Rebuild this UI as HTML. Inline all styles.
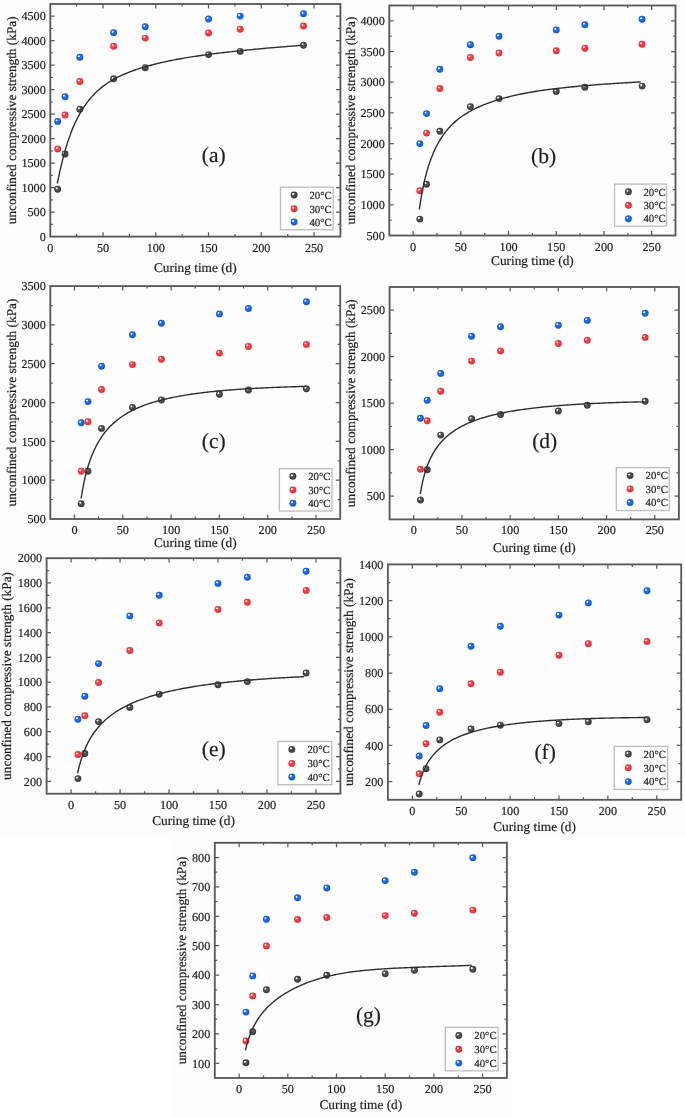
<!DOCTYPE html>
<html><head><meta charset="utf-8"><style>
html,body{margin:0;padding:0;background:#fff;}
svg{display:block;will-change:transform;filter:blur(0.35px);}
text{font-family:"Liberation Serif", serif;fill:#1e1e1e;text-rendering:geometricPrecision;stroke:#1e1e1e;stroke-width:0.2px;}
.tl{font-size:12.2px;}
.at{font-size:13.3px;}
.lg{font-size:10.8px;}
.pl{font-size:21.5px;}
</style></head><body>
<svg width="685" height="1117" viewBox="0 0 685 1117">
<defs><radialGradient id="gk" cx="0.5" cy="0.5" r="0.5" fx="0.33" fy="0.30">
 <stop offset="0" stop-color="#b0b0b0"/><stop offset="0.35" stop-color="#5c5c5c"/><stop offset="0.75" stop-color="#434343"/><stop offset="1" stop-color="#383838"/>
</radialGradient><radialGradient id="gr" cx="0.5" cy="0.5" r="0.5" fx="0.33" fy="0.30">
 <stop offset="0" stop-color="#ffb4b8"/><stop offset="0.35" stop-color="#f44a50"/><stop offset="0.75" stop-color="#ef343b"/><stop offset="1" stop-color="#e02a31"/>
</radialGradient><radialGradient id="gb" cx="0.5" cy="0.5" r="0.5" fx="0.33" fy="0.30">
 <stop offset="0" stop-color="#a0c4ff"/><stop offset="0.35" stop-color="#2c74ee"/><stop offset="0.75" stop-color="#1462e0"/><stop offset="1" stop-color="#0f54cc"/>
</radialGradient><radialGradient id="hl" cx="0.5" cy="0.5" r="0.5"><stop offset="0" stop-color="#fff" stop-opacity="1"/><stop offset="0.5" stop-color="#fff" stop-opacity="0.85"/><stop offset="1" stop-color="#fff" stop-opacity="0"/></radialGradient></defs>
<rect width="685" height="1117" fill="#fdfdfd"/>
<rect x="0" y="838" width="173" height="279" fill="#fff"/><rect x="511" y="838" width="174" height="279" fill="#fff"/>
<path d="M76.67,236.6v-2.5M76.67,4.0v2.5M103.05,236.6v-4.4M103.05,4.0v4.4M129.42,236.6v-2.5M129.42,4.0v2.5M155.79,236.6v-4.4M155.79,4.0v4.4M182.16,236.6v-2.5M182.16,4.0v2.5M208.54,236.6v-4.4M208.54,4.0v4.4M234.91,236.6v-2.5M234.91,4.0v2.5M261.28,236.6v-4.4M261.28,4.0v4.4M287.65,236.6v-2.5M287.65,4.0v2.5M314.03,236.6v-4.4M314.03,4.0v4.4M50.3,224.36h2.5M340.4,224.36h-2.5M50.3,212.12h4.4M340.4,212.12h-4.4M50.3,199.87h2.5M340.4,199.87h-2.5M50.3,187.63h4.4M340.4,187.63h-4.4M50.3,175.39h2.5M340.4,175.39h-2.5M50.3,163.15h4.4M340.4,163.15h-4.4M50.3,150.91h2.5M340.4,150.91h-2.5M50.3,138.66h4.4M340.4,138.66h-4.4M50.3,126.42h2.5M340.4,126.42h-2.5M50.3,114.18h4.4M340.4,114.18h-4.4M50.3,101.94h2.5M340.4,101.94h-2.5M50.3,89.69h4.4M340.4,89.69h-4.4M50.3,77.45h2.5M340.4,77.45h-2.5M50.3,65.21h4.4M340.4,65.21h-4.4M50.3,52.97h2.5M340.4,52.97h-2.5M50.3,40.73h4.4M340.4,40.73h-4.4M50.3,28.48h2.5M340.4,28.48h-2.5M50.3,16.24h4.4M340.4,16.24h-4.4" stroke="#5a5a5a" stroke-width="1.25" fill="none"/>
<rect x="50.3" y="4.0" width="290.10" height="232.60" fill="none" stroke="#5a5a5a" stroke-width="1.85"/>
<text x="50.30" y="251.60" text-anchor="middle" class="tl">0</text>
<text x="103.05" y="251.60" text-anchor="middle" class="tl">50</text>
<text x="155.79" y="251.60" text-anchor="middle" class="tl">100</text>
<text x="208.54" y="251.60" text-anchor="middle" class="tl">150</text>
<text x="261.28" y="251.60" text-anchor="middle" class="tl">200</text>
<text x="314.03" y="251.60" text-anchor="middle" class="tl">250</text>
<text x="45.80" y="240.80" text-anchor="end" class="tl">0</text>
<text x="45.80" y="216.32" text-anchor="end" class="tl">500</text>
<text x="45.80" y="191.83" text-anchor="end" class="tl">1000</text>
<text x="45.80" y="167.35" text-anchor="end" class="tl">1500</text>
<text x="45.80" y="142.86" text-anchor="end" class="tl">2000</text>
<text x="45.80" y="118.38" text-anchor="end" class="tl">2500</text>
<text x="45.80" y="93.89" text-anchor="end" class="tl">3000</text>
<text x="45.80" y="69.41" text-anchor="end" class="tl">3500</text>
<text x="45.80" y="44.93" text-anchor="end" class="tl">4000</text>
<text x="45.80" y="20.44" text-anchor="end" class="tl">4500</text>
<text x="195.35" y="272.40" text-anchor="middle" class="at">Curing time (d)</text>
<text transform="translate(15.80,120.30) rotate(-90)" text-anchor="middle" class="at">unconfined compressive strength (kPa)</text>
<circle cx="57.68" cy="189.30" r="3.45" fill="url(#gk)"/><circle cx="56.68" cy="188.30" r="1.25" fill="url(#hl)"/>
<circle cx="65.07" cy="154.00" r="3.45" fill="url(#gk)"/><circle cx="64.07" cy="153.00" r="1.25" fill="url(#hl)"/>
<circle cx="79.84" cy="109.20" r="3.45" fill="url(#gk)"/><circle cx="78.84" cy="108.20" r="1.25" fill="url(#hl)"/>
<circle cx="113.59" cy="78.80" r="3.45" fill="url(#gk)"/><circle cx="112.59" cy="77.80" r="1.25" fill="url(#hl)"/>
<circle cx="145.24" cy="67.70" r="3.45" fill="url(#gk)"/><circle cx="144.24" cy="66.70" r="1.25" fill="url(#hl)"/>
<circle cx="208.54" cy="54.60" r="3.45" fill="url(#gk)"/><circle cx="207.54" cy="53.60" r="1.25" fill="url(#hl)"/>
<circle cx="240.18" cy="51.40" r="3.45" fill="url(#gk)"/><circle cx="239.18" cy="50.40" r="1.25" fill="url(#hl)"/>
<circle cx="303.48" cy="45.30" r="3.45" fill="url(#gk)"/><circle cx="302.48" cy="44.30" r="1.25" fill="url(#hl)"/>
<circle cx="57.68" cy="149.00" r="3.45" fill="url(#gr)"/><circle cx="56.68" cy="148.00" r="1.25" fill="url(#hl)"/>
<circle cx="65.07" cy="115.00" r="3.45" fill="url(#gr)"/><circle cx="64.07" cy="114.00" r="1.25" fill="url(#hl)"/>
<circle cx="79.84" cy="81.50" r="3.45" fill="url(#gr)"/><circle cx="78.84" cy="80.50" r="1.25" fill="url(#hl)"/>
<circle cx="113.59" cy="46.20" r="3.45" fill="url(#gr)"/><circle cx="112.59" cy="45.20" r="1.25" fill="url(#hl)"/>
<circle cx="145.24" cy="38.10" r="3.45" fill="url(#gr)"/><circle cx="144.24" cy="37.10" r="1.25" fill="url(#hl)"/>
<circle cx="208.54" cy="33.00" r="3.45" fill="url(#gr)"/><circle cx="207.54" cy="32.00" r="1.25" fill="url(#hl)"/>
<circle cx="240.18" cy="29.20" r="3.45" fill="url(#gr)"/><circle cx="239.18" cy="28.20" r="1.25" fill="url(#hl)"/>
<circle cx="303.48" cy="26.00" r="3.45" fill="url(#gr)"/><circle cx="302.48" cy="25.00" r="1.25" fill="url(#hl)"/>
<circle cx="57.68" cy="121.40" r="3.45" fill="url(#gb)"/><circle cx="56.68" cy="120.40" r="1.25" fill="url(#hl)"/>
<circle cx="65.07" cy="96.70" r="3.45" fill="url(#gb)"/><circle cx="64.07" cy="95.70" r="1.25" fill="url(#hl)"/>
<circle cx="79.84" cy="57.30" r="3.45" fill="url(#gb)"/><circle cx="78.84" cy="56.30" r="1.25" fill="url(#hl)"/>
<circle cx="113.59" cy="32.80" r="3.45" fill="url(#gb)"/><circle cx="112.59" cy="31.80" r="1.25" fill="url(#hl)"/>
<circle cx="145.24" cy="26.80" r="3.45" fill="url(#gb)"/><circle cx="144.24" cy="25.80" r="1.25" fill="url(#hl)"/>
<circle cx="208.54" cy="19.00" r="3.45" fill="url(#gb)"/><circle cx="207.54" cy="18.00" r="1.25" fill="url(#hl)"/>
<circle cx="240.18" cy="16.10" r="3.45" fill="url(#gb)"/><circle cx="239.18" cy="15.10" r="1.25" fill="url(#hl)"/>
<circle cx="303.48" cy="13.70" r="3.45" fill="url(#gb)"/><circle cx="302.48" cy="12.70" r="1.25" fill="url(#hl)"/>
<polyline points="57.30,183.30 58.84,176.16 60.38,169.21 61.93,162.65 63.47,156.56 65.01,150.91 66.55,145.69 68.09,140.86 69.64,136.39 71.18,132.24 72.72,128.38 74.26,124.78 75.81,121.43 77.35,118.30 78.89,115.36 80.43,112.61 81.97,110.03 83.52,107.60 85.06,105.32 86.60,103.16 88.14,101.13 89.68,99.21 91.23,97.40 92.77,95.68 94.31,94.06 95.85,92.52 97.40,91.06 98.94,89.68 100.48,88.37 102.02,87.12 103.56,85.94 105.11,84.81 106.65,83.74 108.19,82.71 109.73,81.73 111.27,80.79 112.82,79.89 114.36,79.03 115.90,78.20 117.44,77.40 118.99,76.63 120.53,75.89 122.07,75.17 123.61,74.48 125.15,73.81 126.70,73.17 128.24,72.54 129.78,71.93 131.32,71.35 132.86,70.78 134.41,70.22 135.95,69.68 137.49,69.16 139.03,68.65 140.58,68.16 142.12,67.68 143.66,67.21 145.20,66.75 146.74,66.31 148.29,65.87 149.83,65.45 151.37,65.04 152.91,64.63 154.45,64.24 156.00,63.86 157.54,63.48 159.08,63.11 160.62,62.75 162.17,62.40 163.71,62.06 165.25,61.72 166.79,61.39 168.33,61.07 169.88,60.75 171.42,60.44 172.96,60.14 174.50,59.84 176.04,59.55 177.59,59.26 179.13,58.98 180.67,58.71 182.21,58.44 183.76,58.17 185.30,57.91 186.84,57.65 188.38,57.40 189.92,57.15 191.47,56.91 193.01,56.67 194.55,56.43 196.09,56.20 197.63,55.97 199.18,55.74 200.72,55.52 202.26,55.30 203.80,55.09 205.35,54.87 206.89,54.66 208.43,54.46 209.97,54.25 211.51,54.05 213.06,53.86 214.60,53.66 216.14,53.47 217.68,53.28 219.22,53.09 220.77,52.90 222.31,52.72 223.85,52.54 225.39,52.36 226.94,52.18 228.48,52.01 230.02,51.83 231.56,51.66 233.10,51.49 234.65,51.33 236.19,51.16 237.73,51.00 239.27,50.83 240.81,50.67 242.36,50.51 243.90,50.36 245.44,50.20 246.98,50.05 248.53,49.90 250.07,49.74 251.61,49.60 253.15,49.45 254.69,49.30 256.24,49.15 257.78,49.01 259.32,48.87 260.86,48.73 262.40,48.59 263.95,48.45 265.49,48.31 267.03,48.17 268.57,48.03 270.12,47.90 271.66,47.77 273.20,47.63 274.74,47.50 276.28,47.37 277.83,47.24 279.37,47.11 280.91,46.99 282.45,46.86 283.99,46.73 285.54,46.61 287.08,46.48 288.62,46.36 290.16,46.24 291.71,46.12 293.25,46.00 294.79,45.88 296.33,45.76 297.87,45.64 299.42,45.52 300.96,45.40 302.50,45.29" fill="none" stroke="#2e2e2e" stroke-width="1.4" stroke-linejoin="round"/>
<rect x="280.5" y="187.2" width="52.70" height="42.50" fill="#fff" stroke="#bcbcbc" stroke-width="1.3"/>
<circle cx="294.10" cy="195.00" r="3.45" fill="url(#gk)"/><circle cx="293.10" cy="194.00" r="1.25" fill="url(#hl)"/>
<text x="309.40" y="198.70" class="lg">20°C</text>
<circle cx="294.10" cy="208.80" r="3.45" fill="url(#gr)"/><circle cx="293.10" cy="207.80" r="1.25" fill="url(#hl)"/>
<text x="309.40" y="212.50" class="lg">30°C</text>
<circle cx="294.10" cy="222.00" r="3.45" fill="url(#gb)"/><circle cx="293.10" cy="221.00" r="1.25" fill="url(#hl)"/>
<text x="309.40" y="225.70" class="lg">40°C</text>
<text x="201.80" y="162.30" class="pl">(a)</text>
<path d="M413.15,235.5v-4.4M413.15,5.5v4.4M437.00,235.5v-2.5M437.00,5.5v2.5M460.85,235.5v-4.4M460.85,5.5v4.4M484.70,235.5v-2.5M484.70,5.5v2.5M508.55,235.5v-4.4M508.55,5.5v4.4M532.40,235.5v-2.5M532.40,5.5v2.5M556.25,235.5v-4.4M556.25,5.5v4.4M580.10,235.5v-2.5M580.10,5.5v2.5M603.95,235.5v-4.4M603.95,5.5v4.4M627.80,235.5v-2.5M627.80,5.5v2.5M651.65,235.5v-4.4M651.65,5.5v4.4M389.3,220.17h2.5M675.5,220.17h-2.5M389.3,204.83h4.4M675.5,204.83h-4.4M389.3,189.50h2.5M675.5,189.50h-2.5M389.3,174.17h4.4M675.5,174.17h-4.4M389.3,158.83h2.5M675.5,158.83h-2.5M389.3,143.50h4.4M675.5,143.50h-4.4M389.3,128.17h2.5M675.5,128.17h-2.5M389.3,112.83h4.4M675.5,112.83h-4.4M389.3,97.50h2.5M675.5,97.50h-2.5M389.3,82.17h4.4M675.5,82.17h-4.4M389.3,66.83h2.5M675.5,66.83h-2.5M389.3,51.50h4.4M675.5,51.50h-4.4M389.3,36.17h2.5M675.5,36.17h-2.5M389.3,20.83h4.4M675.5,20.83h-4.4" stroke="#5a5a5a" stroke-width="1.25" fill="none"/>
<rect x="389.3" y="5.5" width="286.20" height="230.00" fill="none" stroke="#5a5a5a" stroke-width="1.85"/>
<text x="413.15" y="250.50" text-anchor="middle" class="tl">0</text>
<text x="460.85" y="250.50" text-anchor="middle" class="tl">50</text>
<text x="508.55" y="250.50" text-anchor="middle" class="tl">100</text>
<text x="556.25" y="250.50" text-anchor="middle" class="tl">150</text>
<text x="603.95" y="250.50" text-anchor="middle" class="tl">200</text>
<text x="651.65" y="250.50" text-anchor="middle" class="tl">250</text>
<text x="384.80" y="239.70" text-anchor="end" class="tl">500</text>
<text x="384.80" y="209.03" text-anchor="end" class="tl">1000</text>
<text x="384.80" y="178.37" text-anchor="end" class="tl">1500</text>
<text x="384.80" y="147.70" text-anchor="end" class="tl">2000</text>
<text x="384.80" y="117.03" text-anchor="end" class="tl">2500</text>
<text x="384.80" y="86.37" text-anchor="end" class="tl">3000</text>
<text x="384.80" y="55.70" text-anchor="end" class="tl">3500</text>
<text x="384.80" y="25.03" text-anchor="end" class="tl">4000</text>
<text x="532.40" y="265.10" text-anchor="middle" class="at">Curing time (d)</text>
<text transform="translate(354.80,120.50) rotate(-90)" text-anchor="middle" class="at">unconfined compressive strength (kPa)</text>
<circle cx="419.83" cy="219.10" r="3.45" fill="url(#gk)"/><circle cx="418.83" cy="218.10" r="1.25" fill="url(#hl)"/>
<circle cx="426.51" cy="184.20" r="3.45" fill="url(#gk)"/><circle cx="425.51" cy="183.20" r="1.25" fill="url(#hl)"/>
<circle cx="439.86" cy="131.30" r="3.45" fill="url(#gk)"/><circle cx="438.86" cy="130.30" r="1.25" fill="url(#hl)"/>
<circle cx="470.39" cy="106.60" r="3.45" fill="url(#gk)"/><circle cx="469.39" cy="105.60" r="1.25" fill="url(#hl)"/>
<circle cx="499.01" cy="98.60" r="3.45" fill="url(#gk)"/><circle cx="498.01" cy="97.60" r="1.25" fill="url(#hl)"/>
<circle cx="556.25" cy="91.50" r="3.45" fill="url(#gk)"/><circle cx="555.25" cy="90.50" r="1.25" fill="url(#hl)"/>
<circle cx="584.87" cy="87.30" r="3.45" fill="url(#gk)"/><circle cx="583.87" cy="86.30" r="1.25" fill="url(#hl)"/>
<circle cx="642.11" cy="86.10" r="3.45" fill="url(#gk)"/><circle cx="641.11" cy="85.10" r="1.25" fill="url(#hl)"/>
<circle cx="419.83" cy="190.70" r="3.45" fill="url(#gr)"/><circle cx="418.83" cy="189.70" r="1.25" fill="url(#hl)"/>
<circle cx="426.51" cy="133.10" r="3.45" fill="url(#gr)"/><circle cx="425.51" cy="132.10" r="1.25" fill="url(#hl)"/>
<circle cx="439.86" cy="88.50" r="3.45" fill="url(#gr)"/><circle cx="438.86" cy="87.50" r="1.25" fill="url(#hl)"/>
<circle cx="470.39" cy="57.50" r="3.45" fill="url(#gr)"/><circle cx="469.39" cy="56.50" r="1.25" fill="url(#hl)"/>
<circle cx="499.01" cy="53.00" r="3.45" fill="url(#gr)"/><circle cx="498.01" cy="52.00" r="1.25" fill="url(#hl)"/>
<circle cx="556.25" cy="50.70" r="3.45" fill="url(#gr)"/><circle cx="555.25" cy="49.70" r="1.25" fill="url(#hl)"/>
<circle cx="584.87" cy="48.20" r="3.45" fill="url(#gr)"/><circle cx="583.87" cy="47.20" r="1.25" fill="url(#hl)"/>
<circle cx="642.11" cy="44.30" r="3.45" fill="url(#gr)"/><circle cx="641.11" cy="43.30" r="1.25" fill="url(#hl)"/>
<circle cx="419.83" cy="143.60" r="3.45" fill="url(#gb)"/><circle cx="418.83" cy="142.60" r="1.25" fill="url(#hl)"/>
<circle cx="426.51" cy="113.60" r="3.45" fill="url(#gb)"/><circle cx="425.51" cy="112.60" r="1.25" fill="url(#hl)"/>
<circle cx="439.86" cy="69.30" r="3.45" fill="url(#gb)"/><circle cx="438.86" cy="68.30" r="1.25" fill="url(#hl)"/>
<circle cx="470.39" cy="44.70" r="3.45" fill="url(#gb)"/><circle cx="469.39" cy="43.70" r="1.25" fill="url(#hl)"/>
<circle cx="499.01" cy="36.30" r="3.45" fill="url(#gb)"/><circle cx="498.01" cy="35.30" r="1.25" fill="url(#hl)"/>
<circle cx="556.25" cy="29.90" r="3.45" fill="url(#gb)"/><circle cx="555.25" cy="28.90" r="1.25" fill="url(#hl)"/>
<circle cx="584.87" cy="24.70" r="3.45" fill="url(#gb)"/><circle cx="583.87" cy="23.70" r="1.25" fill="url(#hl)"/>
<circle cx="642.11" cy="19.30" r="3.45" fill="url(#gb)"/><circle cx="641.11" cy="18.30" r="1.25" fill="url(#hl)"/>
<polyline points="419.30,209.45 420.69,200.21 422.09,192.25 423.48,185.31 424.87,179.19 426.27,173.73 427.66,168.82 429.05,164.39 430.44,160.35 431.84,156.65 433.23,153.25 434.62,150.12 436.02,147.22 437.41,144.52 438.80,142.01 440.20,139.66 441.59,137.47 442.98,135.40 444.38,133.47 445.77,131.64 447.16,129.92 448.55,128.30 449.95,126.76 451.34,125.31 452.73,123.93 454.13,122.62 455.52,121.38 456.91,120.19 458.31,119.07 459.70,118.00 461.09,116.97 462.49,115.99 463.88,115.05 465.27,114.15 466.66,113.29 468.06,112.46 469.45,111.65 470.84,110.88 472.24,110.13 473.63,109.41 475.02,108.71 476.42,108.04 477.81,107.38 479.20,106.75 480.60,106.13 481.99,105.54 483.38,104.96 484.77,104.40 486.17,103.85 487.56,103.32 488.95,102.80 490.35,102.30 491.74,101.81 493.13,101.33 494.53,100.87 495.92,100.42 497.31,99.98 498.71,99.55 500.10,99.14 501.49,98.73 502.88,98.34 504.28,97.95 505.67,97.58 507.06,97.21 508.46,96.86 509.85,96.51 511.24,96.17 512.64,95.84 514.03,95.51 515.42,95.20 516.82,94.89 518.21,94.59 519.60,94.30 520.99,94.01 522.39,93.74 523.78,93.46 525.17,93.20 526.57,92.94 527.96,92.68 529.35,92.44 530.75,92.19 532.14,91.96 533.53,91.73 534.93,91.50 536.32,91.28 537.71,91.06 539.11,90.85 540.50,90.64 541.89,90.44 543.28,90.24 544.68,90.05 546.07,89.86 547.46,89.67 548.86,89.49 550.25,89.31 551.64,89.13 553.04,88.96 554.43,88.79 555.82,88.62 557.22,88.45 558.61,88.29 560.00,88.14 561.39,87.98 562.79,87.83 564.18,87.68 565.57,87.53 566.97,87.38 568.36,87.24 569.75,87.10 571.15,86.96 572.54,86.82 573.93,86.69 575.33,86.56 576.72,86.43 578.11,86.30 579.50,86.17 580.90,86.05 582.29,85.92 583.68,85.80 585.08,85.68 586.47,85.56 587.86,85.45 589.26,85.33 590.65,85.22 592.04,85.11 593.44,85.00 594.83,84.89 596.22,84.78 597.61,84.67 599.01,84.57 600.40,84.46 601.79,84.36 603.19,84.26 604.58,84.16 605.97,84.06 607.37,83.96 608.76,83.86 610.15,83.77 611.55,83.67 612.94,83.58 614.33,83.48 615.72,83.39 617.12,83.30 618.51,83.21 619.90,83.12 621.30,83.03 622.69,82.94 624.08,82.86 625.48,82.77 626.87,82.69 628.26,82.60 629.66,82.52 631.05,82.43 632.44,82.35 633.83,82.27 635.23,82.19 636.62,82.11 638.01,82.03 639.41,81.95 640.80,81.87" fill="none" stroke="#2e2e2e" stroke-width="1.4" stroke-linejoin="round"/>
<rect x="614.6" y="184.1" width="51.90" height="42.00" fill="#fff" stroke="#bcbcbc" stroke-width="1.3"/>
<circle cx="628.40" cy="191.80" r="3.45" fill="url(#gk)"/><circle cx="627.40" cy="190.80" r="1.25" fill="url(#hl)"/>
<text x="643.40" y="195.50" class="lg">20°C</text>
<circle cx="628.40" cy="205.30" r="3.45" fill="url(#gr)"/><circle cx="627.40" cy="204.30" r="1.25" fill="url(#hl)"/>
<text x="643.40" y="209.00" class="lg">30°C</text>
<circle cx="628.40" cy="218.70" r="3.45" fill="url(#gb)"/><circle cx="627.40" cy="217.70" r="1.25" fill="url(#hl)"/>
<text x="643.40" y="222.40" class="lg">40°C</text>
<text x="531.00" y="163.30" class="pl">(b)</text>
<path d="M74.46,519.0v-4.4M74.46,286.1v4.4M98.62,519.0v-2.5M98.62,286.1v2.5M122.77,519.0v-4.4M122.77,286.1v4.4M146.93,519.0v-2.5M146.93,286.1v2.5M171.09,519.0v-4.4M171.09,286.1v4.4M195.25,519.0v-2.5M195.25,286.1v2.5M219.41,519.0v-4.4M219.41,286.1v4.4M243.57,519.0v-2.5M243.57,286.1v2.5M267.72,519.0v-4.4M267.72,286.1v4.4M291.88,519.0v-2.5M291.88,286.1v2.5M316.04,519.0v-4.4M316.04,286.1v4.4M50.3,499.59h2.5M340.2,499.59h-2.5M50.3,480.18h4.4M340.2,480.18h-4.4M50.3,460.77h2.5M340.2,460.77h-2.5M50.3,441.37h4.4M340.2,441.37h-4.4M50.3,421.96h2.5M340.2,421.96h-2.5M50.3,402.55h4.4M340.2,402.55h-4.4M50.3,383.14h2.5M340.2,383.14h-2.5M50.3,363.73h4.4M340.2,363.73h-4.4M50.3,344.33h2.5M340.2,344.33h-2.5M50.3,324.92h4.4M340.2,324.92h-4.4M50.3,305.51h2.5M340.2,305.51h-2.5" stroke="#5a5a5a" stroke-width="1.25" fill="none"/>
<rect x="50.3" y="286.1" width="289.90" height="232.90" fill="none" stroke="#5a5a5a" stroke-width="1.85"/>
<text x="74.46" y="534.00" text-anchor="middle" class="tl">0</text>
<text x="122.77" y="534.00" text-anchor="middle" class="tl">50</text>
<text x="171.09" y="534.00" text-anchor="middle" class="tl">100</text>
<text x="219.41" y="534.00" text-anchor="middle" class="tl">150</text>
<text x="267.72" y="534.00" text-anchor="middle" class="tl">200</text>
<text x="316.04" y="534.00" text-anchor="middle" class="tl">250</text>
<text x="45.80" y="523.20" text-anchor="end" class="tl">500</text>
<text x="45.80" y="484.38" text-anchor="end" class="tl">1000</text>
<text x="45.80" y="445.57" text-anchor="end" class="tl">1500</text>
<text x="45.80" y="406.75" text-anchor="end" class="tl">2000</text>
<text x="45.80" y="367.93" text-anchor="end" class="tl">2500</text>
<text x="45.80" y="329.12" text-anchor="end" class="tl">3000</text>
<text x="45.80" y="290.30" text-anchor="end" class="tl">3500</text>
<text x="195.25" y="547.20" text-anchor="middle" class="at">Curing time (d)</text>
<text transform="translate(15.80,402.55) rotate(-90)" text-anchor="middle" class="at">unconfined compressive strength (kPa)</text>
<circle cx="81.22" cy="503.70" r="3.45" fill="url(#gk)"/><circle cx="80.22" cy="502.70" r="1.25" fill="url(#hl)"/>
<circle cx="87.99" cy="471.20" r="3.45" fill="url(#gk)"/><circle cx="86.99" cy="470.20" r="1.25" fill="url(#hl)"/>
<circle cx="101.52" cy="428.40" r="3.45" fill="url(#gk)"/><circle cx="100.52" cy="427.40" r="1.25" fill="url(#hl)"/>
<circle cx="132.44" cy="407.40" r="3.45" fill="url(#gk)"/><circle cx="131.44" cy="406.40" r="1.25" fill="url(#hl)"/>
<circle cx="161.43" cy="400.00" r="3.45" fill="url(#gk)"/><circle cx="160.43" cy="399.00" r="1.25" fill="url(#hl)"/>
<circle cx="219.41" cy="394.20" r="3.45" fill="url(#gk)"/><circle cx="218.41" cy="393.20" r="1.25" fill="url(#hl)"/>
<circle cx="248.40" cy="390.00" r="3.45" fill="url(#gk)"/><circle cx="247.40" cy="389.00" r="1.25" fill="url(#hl)"/>
<circle cx="306.38" cy="388.80" r="3.45" fill="url(#gk)"/><circle cx="305.38" cy="387.80" r="1.25" fill="url(#hl)"/>
<circle cx="81.22" cy="471.20" r="3.45" fill="url(#gr)"/><circle cx="80.22" cy="470.20" r="1.25" fill="url(#hl)"/>
<circle cx="87.99" cy="421.80" r="3.45" fill="url(#gr)"/><circle cx="86.99" cy="420.80" r="1.25" fill="url(#hl)"/>
<circle cx="101.52" cy="389.50" r="3.45" fill="url(#gr)"/><circle cx="100.52" cy="388.50" r="1.25" fill="url(#hl)"/>
<circle cx="132.44" cy="364.60" r="3.45" fill="url(#gr)"/><circle cx="131.44" cy="363.60" r="1.25" fill="url(#hl)"/>
<circle cx="161.43" cy="359.20" r="3.45" fill="url(#gr)"/><circle cx="160.43" cy="358.20" r="1.25" fill="url(#hl)"/>
<circle cx="219.41" cy="353.10" r="3.45" fill="url(#gr)"/><circle cx="218.41" cy="352.10" r="1.25" fill="url(#hl)"/>
<circle cx="248.40" cy="346.40" r="3.45" fill="url(#gr)"/><circle cx="247.40" cy="345.40" r="1.25" fill="url(#hl)"/>
<circle cx="306.38" cy="344.40" r="3.45" fill="url(#gr)"/><circle cx="305.38" cy="343.40" r="1.25" fill="url(#hl)"/>
<circle cx="81.22" cy="422.80" r="3.45" fill="url(#gb)"/><circle cx="80.22" cy="421.80" r="1.25" fill="url(#hl)"/>
<circle cx="87.99" cy="401.60" r="3.45" fill="url(#gb)"/><circle cx="86.99" cy="400.60" r="1.25" fill="url(#hl)"/>
<circle cx="101.52" cy="366.20" r="3.45" fill="url(#gb)"/><circle cx="100.52" cy="365.20" r="1.25" fill="url(#hl)"/>
<circle cx="132.44" cy="334.80" r="3.45" fill="url(#gb)"/><circle cx="131.44" cy="333.80" r="1.25" fill="url(#hl)"/>
<circle cx="161.43" cy="323.30" r="3.45" fill="url(#gb)"/><circle cx="160.43" cy="322.30" r="1.25" fill="url(#hl)"/>
<circle cx="219.41" cy="313.90" r="3.45" fill="url(#gb)"/><circle cx="218.41" cy="312.90" r="1.25" fill="url(#hl)"/>
<circle cx="248.40" cy="308.50" r="3.45" fill="url(#gb)"/><circle cx="247.40" cy="307.50" r="1.25" fill="url(#hl)"/>
<circle cx="306.38" cy="301.70" r="3.45" fill="url(#gb)"/><circle cx="305.38" cy="300.70" r="1.25" fill="url(#hl)"/>
<polyline points="81.10,498.50 82.51,489.92 83.92,482.66 85.33,476.40 86.75,470.92 88.16,466.06 89.57,461.71 90.98,457.79 92.39,454.22 93.80,450.96 95.21,447.97 96.62,445.20 98.04,442.64 99.45,440.26 100.86,438.04 102.27,435.96 103.68,434.01 105.09,432.18 106.50,430.46 107.92,428.83 109.33,427.29 110.74,425.84 112.15,424.46 113.56,423.14 114.97,421.90 116.38,420.71 117.79,419.58 119.21,418.50 120.62,417.47 122.03,416.48 123.44,415.54 124.85,414.64 126.26,413.78 127.67,412.95 129.08,412.15 130.50,411.39 131.91,410.66 133.32,409.95 134.73,409.27 136.14,408.62 137.55,407.99 138.96,407.38 140.38,406.80 141.79,406.23 143.20,405.69 144.61,405.16 146.02,404.65 147.43,404.15 148.84,403.68 150.25,403.21 151.67,402.76 153.08,402.33 154.49,401.91 155.90,401.50 157.31,401.10 158.72,400.72 160.13,400.34 161.55,399.98 162.96,399.63 164.37,399.28 165.78,398.95 167.19,398.62 168.60,398.31 170.01,398.00 171.42,397.70 172.84,397.41 174.25,397.13 175.66,396.85 177.07,396.58 178.48,396.32 179.89,396.06 181.30,395.82 182.72,395.57 184.13,395.34 185.54,395.10 186.95,394.88 188.36,394.66 189.77,394.44 191.18,394.23 192.59,394.03 194.01,393.83 195.42,393.63 196.83,393.44 198.24,393.26 199.65,393.07 201.06,392.90 202.47,392.72 203.88,392.55 205.30,392.39 206.71,392.22 208.12,392.07 209.53,391.91 210.94,391.76 212.35,391.61 213.76,391.47 215.18,391.32 216.59,391.18 218.00,391.05 219.41,390.92 220.82,390.78 222.23,390.66 223.64,390.53 225.05,390.41 226.47,390.29 227.88,390.17 229.29,390.06 230.70,389.95 232.11,389.84 233.52,389.73 234.93,389.63 236.35,389.52 237.76,389.42 239.17,389.32 240.58,389.23 241.99,389.13 243.40,389.04 244.81,388.95 246.22,388.86 247.64,388.77 249.05,388.69 250.46,388.61 251.87,388.52 253.28,388.44 254.69,388.37 256.10,388.29 257.52,388.21 258.93,388.14 260.34,388.07 261.75,388.00 263.16,387.93 264.57,387.86 265.98,387.79 267.39,387.73 268.81,387.67 270.22,387.60 271.63,387.54 273.04,387.48 274.45,387.42 275.86,387.37 277.27,387.31 278.68,387.26 280.10,387.20 281.51,387.15 282.92,387.10 284.33,387.05 285.74,387.00 287.15,386.95 288.56,386.90 289.98,386.86 291.39,386.81 292.80,386.77 294.21,386.73 295.62,386.68 297.03,386.64 298.44,386.60 299.85,386.56 301.27,386.52 302.68,386.49 304.09,386.45 305.50,386.41" fill="none" stroke="#2e2e2e" stroke-width="1.4" stroke-linejoin="round"/>
<rect x="279.4" y="468.7" width="52.60" height="42.30" fill="#fff" stroke="#bcbcbc" stroke-width="1.3"/>
<circle cx="292.90" cy="476.30" r="3.45" fill="url(#gk)"/><circle cx="291.90" cy="475.30" r="1.25" fill="url(#hl)"/>
<text x="308.20" y="480.00" class="lg">20°C</text>
<circle cx="292.90" cy="490.00" r="3.45" fill="url(#gr)"/><circle cx="291.90" cy="489.00" r="1.25" fill="url(#hl)"/>
<text x="308.20" y="493.70" class="lg">30°C</text>
<circle cx="292.90" cy="503.30" r="3.45" fill="url(#gb)"/><circle cx="291.90" cy="502.30" r="1.25" fill="url(#hl)"/>
<text x="308.20" y="507.00" class="lg">40°C</text>
<text x="201.80" y="448.40" class="pl">(c)</text>
<path d="M413.71,519.4v-4.4M413.71,287.0v4.4M437.82,519.4v-2.5M437.82,287.0v2.5M461.93,519.4v-4.4M461.93,287.0v4.4M486.03,519.4v-2.5M486.03,287.0v2.5M510.14,519.4v-4.4M510.14,287.0v4.4M534.25,519.4v-2.5M534.25,287.0v2.5M558.36,519.4v-4.4M558.36,287.0v4.4M582.47,519.4v-2.5M582.47,287.0v2.5M606.58,519.4v-4.4M606.58,287.0v4.4M630.68,519.4v-2.5M630.68,287.0v2.5M654.79,519.4v-4.4M654.79,287.0v4.4M389.6,496.16h4.4M678.9,496.16h-4.4M389.6,472.92h2.5M678.9,472.92h-2.5M389.6,449.68h4.4M678.9,449.68h-4.4M389.6,426.44h2.5M678.9,426.44h-2.5M389.6,403.20h4.4M678.9,403.20h-4.4M389.6,379.96h2.5M678.9,379.96h-2.5M389.6,356.72h4.4M678.9,356.72h-4.4M389.6,333.48h2.5M678.9,333.48h-2.5M389.6,310.24h4.4M678.9,310.24h-4.4" stroke="#5a5a5a" stroke-width="1.25" fill="none"/>
<rect x="389.6" y="287.0" width="289.30" height="232.40" fill="none" stroke="#5a5a5a" stroke-width="1.85"/>
<text x="413.71" y="534.40" text-anchor="middle" class="tl">0</text>
<text x="461.93" y="534.40" text-anchor="middle" class="tl">50</text>
<text x="510.14" y="534.40" text-anchor="middle" class="tl">100</text>
<text x="558.36" y="534.40" text-anchor="middle" class="tl">150</text>
<text x="606.58" y="534.40" text-anchor="middle" class="tl">200</text>
<text x="654.79" y="534.40" text-anchor="middle" class="tl">250</text>
<text x="385.10" y="500.36" text-anchor="end" class="tl">500</text>
<text x="385.10" y="453.88" text-anchor="end" class="tl">1000</text>
<text x="385.10" y="407.40" text-anchor="end" class="tl">1500</text>
<text x="385.10" y="360.92" text-anchor="end" class="tl">2000</text>
<text x="385.10" y="314.44" text-anchor="end" class="tl">2500</text>
<text x="534.25" y="551.60" text-anchor="middle" class="at">Curing time (d)</text>
<text transform="translate(355.10,403.20) rotate(-90)" text-anchor="middle" class="at">unconfined compressive strength (kPa)</text>
<circle cx="420.46" cy="500.00" r="3.45" fill="url(#gk)"/><circle cx="419.46" cy="499.00" r="1.25" fill="url(#hl)"/>
<circle cx="427.21" cy="469.70" r="3.45" fill="url(#gk)"/><circle cx="426.21" cy="468.70" r="1.25" fill="url(#hl)"/>
<circle cx="440.71" cy="435.10" r="3.45" fill="url(#gk)"/><circle cx="439.71" cy="434.10" r="1.25" fill="url(#hl)"/>
<circle cx="471.57" cy="418.80" r="3.45" fill="url(#gk)"/><circle cx="470.57" cy="417.80" r="1.25" fill="url(#hl)"/>
<circle cx="500.50" cy="414.50" r="3.45" fill="url(#gk)"/><circle cx="499.50" cy="413.50" r="1.25" fill="url(#hl)"/>
<circle cx="558.36" cy="411.00" r="3.45" fill="url(#gk)"/><circle cx="557.36" cy="410.00" r="1.25" fill="url(#hl)"/>
<circle cx="587.29" cy="405.20" r="3.45" fill="url(#gk)"/><circle cx="586.29" cy="404.20" r="1.25" fill="url(#hl)"/>
<circle cx="645.15" cy="401.30" r="3.45" fill="url(#gk)"/><circle cx="644.15" cy="400.30" r="1.25" fill="url(#hl)"/>
<circle cx="420.46" cy="469.30" r="3.45" fill="url(#gr)"/><circle cx="419.46" cy="468.30" r="1.25" fill="url(#hl)"/>
<circle cx="427.21" cy="420.70" r="3.45" fill="url(#gr)"/><circle cx="426.21" cy="419.70" r="1.25" fill="url(#hl)"/>
<circle cx="440.71" cy="391.30" r="3.45" fill="url(#gr)"/><circle cx="439.71" cy="390.30" r="1.25" fill="url(#hl)"/>
<circle cx="471.57" cy="361.10" r="3.45" fill="url(#gr)"/><circle cx="470.57" cy="360.10" r="1.25" fill="url(#hl)"/>
<circle cx="500.50" cy="350.90" r="3.45" fill="url(#gr)"/><circle cx="499.50" cy="349.90" r="1.25" fill="url(#hl)"/>
<circle cx="558.36" cy="343.50" r="3.45" fill="url(#gr)"/><circle cx="557.36" cy="342.50" r="1.25" fill="url(#hl)"/>
<circle cx="587.29" cy="340.30" r="3.45" fill="url(#gr)"/><circle cx="586.29" cy="339.30" r="1.25" fill="url(#hl)"/>
<circle cx="645.15" cy="337.40" r="3.45" fill="url(#gr)"/><circle cx="644.15" cy="336.40" r="1.25" fill="url(#hl)"/>
<circle cx="420.46" cy="418.30" r="3.45" fill="url(#gb)"/><circle cx="419.46" cy="417.30" r="1.25" fill="url(#hl)"/>
<circle cx="427.21" cy="400.20" r="3.45" fill="url(#gb)"/><circle cx="426.21" cy="399.20" r="1.25" fill="url(#hl)"/>
<circle cx="440.71" cy="373.40" r="3.45" fill="url(#gb)"/><circle cx="439.71" cy="372.40" r="1.25" fill="url(#hl)"/>
<circle cx="471.57" cy="336.20" r="3.45" fill="url(#gb)"/><circle cx="470.57" cy="335.20" r="1.25" fill="url(#hl)"/>
<circle cx="500.50" cy="326.80" r="3.45" fill="url(#gb)"/><circle cx="499.50" cy="325.80" r="1.25" fill="url(#hl)"/>
<circle cx="558.36" cy="325.20" r="3.45" fill="url(#gb)"/><circle cx="557.36" cy="324.20" r="1.25" fill="url(#hl)"/>
<circle cx="587.29" cy="320.40" r="3.45" fill="url(#gb)"/><circle cx="586.29" cy="319.40" r="1.25" fill="url(#hl)"/>
<circle cx="645.15" cy="313.30" r="3.45" fill="url(#gb)"/><circle cx="644.15" cy="312.30" r="1.25" fill="url(#hl)"/>
<polyline points="420.30,493.79 421.71,486.04 423.12,479.69 424.52,474.34 425.93,469.75 427.34,465.73 428.75,462.18 430.16,459.01 431.57,456.15 432.97,453.55 434.38,451.18 435.79,449.00 437.20,446.99 438.61,445.12 440.01,443.39 441.42,441.77 442.83,440.25 444.24,438.83 445.65,437.49 447.06,436.23 448.46,435.03 449.87,433.90 451.28,432.83 452.69,431.81 454.10,430.84 455.50,429.91 456.91,429.03 458.32,428.19 459.73,427.38 461.14,426.61 462.55,425.87 463.95,425.16 465.36,424.48 466.77,423.82 468.18,423.19 469.59,422.59 470.99,422.00 472.40,421.44 473.81,420.90 475.22,420.37 476.63,419.87 478.04,419.38 479.44,418.90 480.85,418.45 482.26,418.00 483.67,417.57 485.08,417.16 486.48,416.76 487.89,416.37 489.30,415.99 490.71,415.62 492.12,415.26 493.53,414.91 494.93,414.58 496.34,414.25 497.75,413.93 499.16,413.62 500.57,413.32 501.97,413.03 503.38,412.74 504.79,412.46 506.20,412.19 507.61,411.93 509.02,411.67 510.42,411.42 511.83,411.18 513.24,410.94 514.65,410.71 516.06,410.48 517.46,410.26 518.87,410.05 520.28,409.84 521.69,409.63 523.10,409.43 524.51,409.24 525.91,409.05 527.32,408.86 528.73,408.68 530.14,408.50 531.55,408.32 532.95,408.15 534.36,407.99 535.77,407.83 537.18,407.67 538.59,407.51 539.99,407.36 541.40,407.21 542.81,407.07 544.22,406.92 545.63,406.79 547.04,406.65 548.44,406.52 549.85,406.39 551.26,406.26 552.67,406.13 554.08,406.01 555.48,405.89 556.89,405.78 558.30,405.66 559.71,405.55 561.12,405.44 562.53,405.33 563.93,405.23 565.34,405.12 566.75,405.02 568.16,404.93 569.57,404.83 570.97,404.73 572.38,404.64 573.79,404.55 575.20,404.46 576.61,404.37 578.02,404.29 579.42,404.21 580.83,404.12 582.24,404.04 583.65,403.97 585.06,403.89 586.46,403.81 587.87,403.74 589.28,403.67 590.69,403.60 592.10,403.53 593.51,403.46 594.91,403.39 596.32,403.33 597.73,403.27 599.14,403.20 600.55,403.14 601.95,403.08 603.36,403.02 604.77,402.97 606.18,402.91 607.59,402.86 609.00,402.80 610.40,402.75 611.81,402.70 613.22,402.65 614.63,402.60 616.04,402.55 617.44,402.50 618.85,402.46 620.26,402.41 621.67,402.37 623.08,402.32 624.49,402.28 625.89,402.24 627.30,402.20 628.71,402.16 630.12,402.12 631.53,402.08 632.93,402.05 634.34,402.01 635.75,401.98 637.16,401.94 638.57,401.91 639.98,401.88 641.38,401.84 642.79,401.81 644.20,401.78" fill="none" stroke="#2e2e2e" stroke-width="1.4" stroke-linejoin="round"/>
<rect x="616.3" y="467.6" width="52.90" height="42.90" fill="#fff" stroke="#bcbcbc" stroke-width="1.3"/>
<circle cx="630.10" cy="475.60" r="3.45" fill="url(#gk)"/><circle cx="629.10" cy="474.60" r="1.25" fill="url(#hl)"/>
<text x="645.60" y="479.30" class="lg">20°C</text>
<circle cx="630.10" cy="489.00" r="3.45" fill="url(#gr)"/><circle cx="629.10" cy="488.00" r="1.25" fill="url(#hl)"/>
<text x="645.60" y="492.70" class="lg">30°C</text>
<circle cx="630.10" cy="502.50" r="3.45" fill="url(#gb)"/><circle cx="629.10" cy="501.50" r="1.25" fill="url(#hl)"/>
<text x="645.60" y="506.20" class="lg">40°C</text>
<text x="532.20" y="448.40" class="pl">(d)</text>
<path d="M71.08,793.7v-4.4M71.08,558.2v4.4M95.57,793.7v-2.5M95.57,558.2v2.5M120.05,793.7v-4.4M120.05,558.2v4.4M144.53,793.7v-2.5M144.53,558.2v2.5M169.02,793.7v-4.4M169.02,558.2v4.4M193.50,793.7v-2.5M193.50,558.2v2.5M217.98,793.7v-4.4M217.98,558.2v4.4M242.47,793.7v-2.5M242.47,558.2v2.5M266.95,793.7v-4.4M266.95,558.2v4.4M291.43,793.7v-2.5M291.43,558.2v2.5M315.92,793.7v-4.4M315.92,558.2v4.4M46.6,781.31h4.4M340.4,781.31h-4.4M46.6,768.91h2.5M340.4,768.91h-2.5M46.6,756.52h4.4M340.4,756.52h-4.4M46.6,744.12h2.5M340.4,744.12h-2.5M46.6,731.73h4.4M340.4,731.73h-4.4M46.6,719.33h2.5M340.4,719.33h-2.5M46.6,706.94h4.4M340.4,706.94h-4.4M46.6,694.54h2.5M340.4,694.54h-2.5M46.6,682.15h4.4M340.4,682.15h-4.4M46.6,669.75h2.5M340.4,669.75h-2.5M46.6,657.36h4.4M340.4,657.36h-4.4M46.6,644.96h2.5M340.4,644.96h-2.5M46.6,632.57h4.4M340.4,632.57h-4.4M46.6,620.17h2.5M340.4,620.17h-2.5M46.6,607.78h4.4M340.4,607.78h-4.4M46.6,595.38h2.5M340.4,595.38h-2.5M46.6,582.99h4.4M340.4,582.99h-4.4M46.6,570.59h2.5M340.4,570.59h-2.5" stroke="#5a5a5a" stroke-width="1.25" fill="none"/>
<rect x="46.6" y="558.2" width="293.80" height="235.50" fill="none" stroke="#5a5a5a" stroke-width="1.85"/>
<text x="71.08" y="808.70" text-anchor="middle" class="tl">0</text>
<text x="120.05" y="808.70" text-anchor="middle" class="tl">50</text>
<text x="169.02" y="808.70" text-anchor="middle" class="tl">100</text>
<text x="217.98" y="808.70" text-anchor="middle" class="tl">150</text>
<text x="266.95" y="808.70" text-anchor="middle" class="tl">200</text>
<text x="315.92" y="808.70" text-anchor="middle" class="tl">250</text>
<text x="42.10" y="785.51" text-anchor="end" class="tl">200</text>
<text x="42.10" y="760.72" text-anchor="end" class="tl">400</text>
<text x="42.10" y="735.93" text-anchor="end" class="tl">600</text>
<text x="42.10" y="711.14" text-anchor="end" class="tl">800</text>
<text x="42.10" y="686.35" text-anchor="end" class="tl">1000</text>
<text x="42.10" y="661.56" text-anchor="end" class="tl">1200</text>
<text x="42.10" y="636.77" text-anchor="end" class="tl">1400</text>
<text x="42.10" y="611.98" text-anchor="end" class="tl">1600</text>
<text x="42.10" y="587.19" text-anchor="end" class="tl">1800</text>
<text x="42.10" y="562.40" text-anchor="end" class="tl">2000</text>
<text x="193.50" y="825.40" text-anchor="middle" class="at">Curing time (d)</text>
<text transform="translate(11.30,675.95) rotate(-90)" text-anchor="middle" class="at">unconfined compressive strength (kPa)</text>
<circle cx="77.94" cy="778.60" r="3.45" fill="url(#gk)"/><circle cx="76.94" cy="777.60" r="1.25" fill="url(#hl)"/>
<circle cx="84.79" cy="753.50" r="3.45" fill="url(#gk)"/><circle cx="83.79" cy="752.50" r="1.25" fill="url(#hl)"/>
<circle cx="98.50" cy="721.60" r="3.45" fill="url(#gk)"/><circle cx="97.50" cy="720.60" r="1.25" fill="url(#hl)"/>
<circle cx="129.84" cy="707.40" r="3.45" fill="url(#gk)"/><circle cx="128.84" cy="706.40" r="1.25" fill="url(#hl)"/>
<circle cx="159.22" cy="694.20" r="3.45" fill="url(#gk)"/><circle cx="158.22" cy="693.20" r="1.25" fill="url(#hl)"/>
<circle cx="217.98" cy="684.80" r="3.45" fill="url(#gk)"/><circle cx="216.98" cy="683.80" r="1.25" fill="url(#hl)"/>
<circle cx="247.36" cy="681.60" r="3.45" fill="url(#gk)"/><circle cx="246.36" cy="680.60" r="1.25" fill="url(#hl)"/>
<circle cx="306.12" cy="673.00" r="3.45" fill="url(#gk)"/><circle cx="305.12" cy="672.00" r="1.25" fill="url(#hl)"/>
<circle cx="77.94" cy="754.50" r="3.45" fill="url(#gr)"/><circle cx="76.94" cy="753.50" r="1.25" fill="url(#hl)"/>
<circle cx="84.79" cy="715.80" r="3.45" fill="url(#gr)"/><circle cx="83.79" cy="714.80" r="1.25" fill="url(#hl)"/>
<circle cx="98.50" cy="682.50" r="3.45" fill="url(#gr)"/><circle cx="97.50" cy="681.50" r="1.25" fill="url(#hl)"/>
<circle cx="129.84" cy="650.50" r="3.45" fill="url(#gr)"/><circle cx="128.84" cy="649.50" r="1.25" fill="url(#hl)"/>
<circle cx="159.22" cy="622.90" r="3.45" fill="url(#gr)"/><circle cx="158.22" cy="621.90" r="1.25" fill="url(#hl)"/>
<circle cx="217.98" cy="609.40" r="3.45" fill="url(#gr)"/><circle cx="216.98" cy="608.40" r="1.25" fill="url(#hl)"/>
<circle cx="247.36" cy="602.30" r="3.45" fill="url(#gr)"/><circle cx="246.36" cy="601.30" r="1.25" fill="url(#hl)"/>
<circle cx="306.12" cy="590.40" r="3.45" fill="url(#gr)"/><circle cx="305.12" cy="589.40" r="1.25" fill="url(#hl)"/>
<circle cx="77.94" cy="719.30" r="3.45" fill="url(#gb)"/><circle cx="76.94" cy="718.30" r="1.25" fill="url(#hl)"/>
<circle cx="84.79" cy="696.30" r="3.45" fill="url(#gb)"/><circle cx="83.79" cy="695.30" r="1.25" fill="url(#hl)"/>
<circle cx="98.50" cy="663.60" r="3.45" fill="url(#gb)"/><circle cx="97.50" cy="662.60" r="1.25" fill="url(#hl)"/>
<circle cx="129.84" cy="615.90" r="3.45" fill="url(#gb)"/><circle cx="128.84" cy="614.90" r="1.25" fill="url(#hl)"/>
<circle cx="159.22" cy="595.30" r="3.45" fill="url(#gb)"/><circle cx="158.22" cy="594.30" r="1.25" fill="url(#hl)"/>
<circle cx="217.98" cy="583.40" r="3.45" fill="url(#gb)"/><circle cx="216.98" cy="582.40" r="1.25" fill="url(#hl)"/>
<circle cx="247.36" cy="577.30" r="3.45" fill="url(#gb)"/><circle cx="246.36" cy="576.30" r="1.25" fill="url(#hl)"/>
<circle cx="306.12" cy="571.20" r="3.45" fill="url(#gb)"/><circle cx="305.12" cy="570.20" r="1.25" fill="url(#hl)"/>
<polyline points="77.60,773.36 79.03,767.18 80.45,761.91 81.88,757.32 83.30,753.27 84.73,749.66 86.15,746.40 87.58,743.43 89.00,740.72 90.43,738.21 91.85,735.90 93.28,733.75 94.70,731.74 96.13,729.85 97.55,728.08 98.98,726.42 100.40,724.84 101.83,723.35 103.25,721.94 104.68,720.59 106.10,719.31 107.53,718.09 108.95,716.93 110.38,715.81 111.80,714.74 113.23,713.72 114.65,712.73 116.08,711.79 117.50,710.88 118.93,710.00 120.35,709.16 121.78,708.34 123.21,707.56 124.63,706.80 126.06,706.06 127.48,705.35 128.91,704.66 130.33,704.00 131.76,703.35 133.18,702.72 134.61,702.11 136.03,701.52 137.46,700.95 138.88,700.39 140.31,699.85 141.73,699.32 143.16,698.81 144.58,698.31 146.01,697.82 147.43,697.35 148.86,696.89 150.28,696.44 151.71,696.00 153.13,695.57 154.56,695.15 155.98,694.74 157.41,694.35 158.83,693.96 160.26,693.58 161.68,693.21 163.11,692.84 164.53,692.49 165.96,692.14 167.38,691.80 168.81,691.47 170.24,691.14 171.66,690.82 173.09,690.51 174.51,690.21 175.94,689.91 177.36,689.62 178.79,689.33 180.21,689.05 181.64,688.77 183.06,688.50 184.49,688.24 185.91,687.98 187.34,687.73 188.76,687.48 190.19,687.23 191.61,686.99 193.04,686.76 194.46,686.52 195.89,686.30 197.31,686.08 198.74,685.86 200.16,685.64 201.59,685.43 203.01,685.22 204.44,685.02 205.86,684.82 207.29,684.63 208.71,684.43 210.14,684.24 211.56,684.06 212.99,683.87 214.42,683.69 215.84,683.52 217.27,683.34 218.69,683.17 220.12,683.01 221.54,682.84 222.97,682.68 224.39,682.52 225.82,682.36 227.24,682.21 228.67,682.06 230.09,681.91 231.52,681.76 232.94,681.62 234.37,681.47 235.79,681.33 237.22,681.20 238.64,681.06 240.07,680.93 241.49,680.80 242.92,680.67 244.34,680.54 245.77,680.42 247.19,680.29 248.62,680.17 250.04,680.05 251.47,679.94 252.89,679.82 254.32,679.71 255.74,679.60 257.17,679.48 258.59,679.38 260.02,679.27 261.45,679.16 262.87,679.06 264.30,678.96 265.72,678.86 267.15,678.76 268.57,678.66 270.00,678.57 271.42,678.47 272.85,678.38 274.27,678.29 275.70,678.20 277.12,678.11 278.55,678.02 279.97,677.93 281.40,677.85 282.82,677.77 284.25,677.68 285.67,677.60 287.10,677.52 288.52,677.44 289.95,677.37 291.37,677.29 292.80,677.22 294.22,677.14 295.65,677.07 297.07,677.00 298.50,676.93 299.92,676.86 301.35,676.79 302.77,676.72 304.20,676.65" fill="none" stroke="#2e2e2e" stroke-width="1.4" stroke-linejoin="round"/>
<rect x="277.9" y="741.5" width="53.80" height="43.20" fill="#fff" stroke="#bcbcbc" stroke-width="1.3"/>
<circle cx="291.80" cy="749.40" r="3.45" fill="url(#gk)"/><circle cx="290.80" cy="748.40" r="1.25" fill="url(#hl)"/>
<text x="307.40" y="753.10" class="lg">20°C</text>
<circle cx="291.80" cy="763.40" r="3.45" fill="url(#gr)"/><circle cx="290.80" cy="762.40" r="1.25" fill="url(#hl)"/>
<text x="307.40" y="767.10" class="lg">30°C</text>
<circle cx="291.80" cy="777.00" r="3.45" fill="url(#gb)"/><circle cx="290.80" cy="776.00" r="1.25" fill="url(#hl)"/>
<text x="307.40" y="780.70" class="lg">40°C</text>
<text x="201.80" y="756.20" class="pl">(e)</text>
<path d="M412.34,799.8v-4.4M412.34,564.4v4.4M436.78,799.8v-2.5M436.78,564.4v2.5M461.23,799.8v-4.4M461.23,564.4v4.4M485.67,799.8v-2.5M485.67,564.4v2.5M510.11,799.8v-4.4M510.11,564.4v4.4M534.55,799.8v-2.5M534.55,564.4v2.5M558.99,799.8v-4.4M558.99,564.4v4.4M583.43,799.8v-2.5M583.43,564.4v2.5M607.88,799.8v-4.4M607.88,564.4v4.4M632.32,799.8v-2.5M632.32,564.4v2.5M656.76,799.8v-4.4M656.76,564.4v4.4M387.9,781.69h4.4M681.2,781.69h-4.4M387.9,763.58h2.5M681.2,763.58h-2.5M387.9,745.48h4.4M681.2,745.48h-4.4M387.9,727.37h2.5M681.2,727.37h-2.5M387.9,709.26h4.4M681.2,709.26h-4.4M387.9,691.15h2.5M681.2,691.15h-2.5M387.9,673.05h4.4M681.2,673.05h-4.4M387.9,654.94h2.5M681.2,654.94h-2.5M387.9,636.83h4.4M681.2,636.83h-4.4M387.9,618.72h2.5M681.2,618.72h-2.5M387.9,600.62h4.4M681.2,600.62h-4.4M387.9,582.51h2.5M681.2,582.51h-2.5" stroke="#5a5a5a" stroke-width="1.25" fill="none"/>
<rect x="387.9" y="564.4" width="293.30" height="235.40" fill="none" stroke="#5a5a5a" stroke-width="1.85"/>
<text x="412.34" y="814.80" text-anchor="middle" class="tl">0</text>
<text x="461.23" y="814.80" text-anchor="middle" class="tl">50</text>
<text x="510.11" y="814.80" text-anchor="middle" class="tl">100</text>
<text x="558.99" y="814.80" text-anchor="middle" class="tl">150</text>
<text x="607.88" y="814.80" text-anchor="middle" class="tl">200</text>
<text x="656.76" y="814.80" text-anchor="middle" class="tl">250</text>
<text x="383.40" y="785.89" text-anchor="end" class="tl">200</text>
<text x="383.40" y="749.68" text-anchor="end" class="tl">400</text>
<text x="383.40" y="713.46" text-anchor="end" class="tl">600</text>
<text x="383.40" y="677.25" text-anchor="end" class="tl">800</text>
<text x="383.40" y="641.03" text-anchor="end" class="tl">1000</text>
<text x="383.40" y="604.82" text-anchor="end" class="tl">1200</text>
<text x="383.40" y="568.60" text-anchor="end" class="tl">1400</text>
<text x="534.55" y="830.70" text-anchor="middle" class="at">Curing time (d)</text>
<text transform="translate(353.40,682.10) rotate(-90)" text-anchor="middle" class="at">unconfined compressive strength (kPa)</text>
<circle cx="419.19" cy="794.00" r="3.45" fill="url(#gk)"/><circle cx="418.19" cy="793.00" r="1.25" fill="url(#hl)"/>
<circle cx="426.03" cy="768.70" r="3.45" fill="url(#gk)"/><circle cx="425.03" cy="767.70" r="1.25" fill="url(#hl)"/>
<circle cx="439.72" cy="739.90" r="3.45" fill="url(#gk)"/><circle cx="438.72" cy="738.90" r="1.25" fill="url(#hl)"/>
<circle cx="471.00" cy="729.00" r="3.45" fill="url(#gk)"/><circle cx="470.00" cy="728.00" r="1.25" fill="url(#hl)"/>
<circle cx="500.33" cy="725.20" r="3.45" fill="url(#gk)"/><circle cx="499.33" cy="724.20" r="1.25" fill="url(#hl)"/>
<circle cx="558.99" cy="723.60" r="3.45" fill="url(#gk)"/><circle cx="557.99" cy="722.60" r="1.25" fill="url(#hl)"/>
<circle cx="588.32" cy="721.70" r="3.45" fill="url(#gk)"/><circle cx="587.32" cy="720.70" r="1.25" fill="url(#hl)"/>
<circle cx="646.98" cy="719.80" r="3.45" fill="url(#gk)"/><circle cx="645.98" cy="718.80" r="1.25" fill="url(#hl)"/>
<circle cx="419.19" cy="773.80" r="3.45" fill="url(#gr)"/><circle cx="418.19" cy="772.80" r="1.25" fill="url(#hl)"/>
<circle cx="426.03" cy="743.60" r="3.45" fill="url(#gr)"/><circle cx="425.03" cy="742.60" r="1.25" fill="url(#hl)"/>
<circle cx="439.72" cy="712.30" r="3.45" fill="url(#gr)"/><circle cx="438.72" cy="711.30" r="1.25" fill="url(#hl)"/>
<circle cx="471.00" cy="683.80" r="3.45" fill="url(#gr)"/><circle cx="470.00" cy="682.80" r="1.25" fill="url(#hl)"/>
<circle cx="500.33" cy="672.30" r="3.45" fill="url(#gr)"/><circle cx="499.33" cy="671.30" r="1.25" fill="url(#hl)"/>
<circle cx="558.99" cy="655.20" r="3.45" fill="url(#gr)"/><circle cx="557.99" cy="654.20" r="1.25" fill="url(#hl)"/>
<circle cx="588.32" cy="643.70" r="3.45" fill="url(#gr)"/><circle cx="587.32" cy="642.70" r="1.25" fill="url(#hl)"/>
<circle cx="646.98" cy="641.40" r="3.45" fill="url(#gr)"/><circle cx="645.98" cy="640.40" r="1.25" fill="url(#hl)"/>
<circle cx="419.19" cy="756.00" r="3.45" fill="url(#gb)"/><circle cx="418.19" cy="755.00" r="1.25" fill="url(#hl)"/>
<circle cx="426.03" cy="725.50" r="3.45" fill="url(#gb)"/><circle cx="425.03" cy="724.50" r="1.25" fill="url(#hl)"/>
<circle cx="439.72" cy="688.70" r="3.45" fill="url(#gb)"/><circle cx="438.72" cy="687.70" r="1.25" fill="url(#hl)"/>
<circle cx="471.00" cy="646.30" r="3.45" fill="url(#gb)"/><circle cx="470.00" cy="645.30" r="1.25" fill="url(#hl)"/>
<circle cx="500.33" cy="626.30" r="3.45" fill="url(#gb)"/><circle cx="499.33" cy="625.30" r="1.25" fill="url(#hl)"/>
<circle cx="558.99" cy="615.10" r="3.45" fill="url(#gb)"/><circle cx="557.99" cy="614.10" r="1.25" fill="url(#hl)"/>
<circle cx="588.32" cy="602.90" r="3.45" fill="url(#gb)"/><circle cx="587.32" cy="601.90" r="1.25" fill="url(#hl)"/>
<circle cx="646.98" cy="590.70" r="3.45" fill="url(#gb)"/><circle cx="645.98" cy="589.70" r="1.25" fill="url(#hl)"/>
<polyline points="418.80,785.05 420.23,779.95 421.67,775.64 423.10,771.94 424.54,768.69 425.97,765.82 427.40,763.25 428.84,760.93 430.27,758.81 431.71,756.88 433.14,755.10 434.57,753.46 436.01,751.94 437.44,750.52 438.88,749.19 440.31,747.95 441.74,746.78 443.18,745.69 444.61,744.65 446.05,743.67 447.48,742.74 448.91,741.86 450.35,741.02 451.78,740.23 453.22,739.47 454.65,738.75 456.08,738.06 457.52,737.40 458.95,736.76 460.38,736.16 461.82,735.58 463.25,735.02 464.69,734.49 466.12,733.97 467.55,733.48 468.99,733.00 470.42,732.54 471.86,732.10 473.29,731.67 474.72,731.26 476.16,730.86 477.59,730.48 479.03,730.11 480.46,729.75 481.89,729.40 483.33,729.07 484.76,728.74 486.20,728.42 487.63,728.12 489.06,727.82 490.50,727.53 491.93,727.26 493.37,726.98 494.80,726.72 496.23,726.47 497.67,726.22 499.10,725.98 500.54,725.74 501.97,725.52 503.40,725.29 504.84,725.08 506.27,724.87 507.71,724.67 509.14,724.47 510.57,724.28 512.01,724.09 513.44,723.90 514.88,723.73 516.31,723.55 517.74,723.38 519.18,723.22 520.61,723.06 522.05,722.90 523.48,722.75 524.91,722.60 526.35,722.46 527.78,722.31 529.22,722.18 530.65,722.04 532.08,721.91 533.52,721.78 534.95,721.66 536.38,721.54 537.82,721.42 539.25,721.30 540.69,721.19 542.12,721.08 543.55,720.97 544.99,720.87 546.42,720.76 547.86,720.66 549.29,720.57 550.72,720.47 552.16,720.38 553.59,720.29 555.03,720.20 556.46,720.11 557.89,720.03 559.33,719.95 560.76,719.87 562.20,719.79 563.63,719.71 565.06,719.64 566.50,719.56 567.93,719.49 569.37,719.42 570.80,719.35 572.23,719.29 573.67,719.22 575.10,719.16 576.54,719.10 577.97,719.04 579.40,718.98 580.84,718.92 582.27,718.87 583.71,718.81 585.14,718.76 586.57,718.71 588.01,718.66 589.44,718.61 590.88,718.56 592.31,718.52 593.74,718.47 595.18,718.43 596.61,718.39 598.05,718.34 599.48,718.30 600.91,718.26 602.35,718.23 603.78,718.19 605.22,718.15 606.65,718.12 608.08,718.08 609.52,718.05 610.95,718.02 612.38,717.98 613.82,717.95 615.25,717.92 616.69,717.90 618.12,717.87 619.55,717.84 620.99,717.81 622.42,717.79 623.86,717.76 625.29,717.74 626.72,717.72 628.16,717.70 629.59,717.67 631.03,717.65 632.46,717.63 633.89,717.61 635.33,717.60 636.76,717.58 638.20,717.56 639.63,717.54 641.06,717.53 642.50,717.51 643.93,717.50 645.37,717.49 646.80,717.47" fill="none" stroke="#2e2e2e" stroke-width="1.4" stroke-linejoin="round"/>
<rect x="614.2" y="746.4" width="53.50" height="43.00" fill="#fff" stroke="#bcbcbc" stroke-width="1.3"/>
<circle cx="628.30" cy="754.00" r="3.45" fill="url(#gk)"/><circle cx="627.30" cy="753.00" r="1.25" fill="url(#hl)"/>
<text x="643.60" y="757.70" class="lg">20°C</text>
<circle cx="628.30" cy="767.80" r="3.45" fill="url(#gr)"/><circle cx="627.30" cy="766.80" r="1.25" fill="url(#hl)"/>
<text x="643.60" y="771.50" class="lg">30°C</text>
<circle cx="628.30" cy="781.60" r="3.45" fill="url(#gb)"/><circle cx="627.30" cy="780.60" r="1.25" fill="url(#hl)"/>
<text x="643.60" y="785.30" class="lg">40°C</text>
<text x="534.40" y="759.30" class="pl">(f)</text>
<path d="M239.14,1078.0v-4.4M239.14,842.8v4.4M263.48,1078.0v-2.5M263.48,842.8v2.5M287.82,1078.0v-4.4M287.82,842.8v4.4M312.17,1078.0v-2.5M312.17,842.8v2.5M336.51,1078.0v-4.4M336.51,842.8v4.4M360.85,1078.0v-2.5M360.85,842.8v2.5M385.19,1078.0v-4.4M385.19,842.8v4.4M409.53,1078.0v-2.5M409.53,842.8v2.5M433.88,1078.0v-4.4M433.88,842.8v4.4M458.22,1078.0v-2.5M458.22,842.8v2.5M482.56,1078.0v-4.4M482.56,842.8v4.4M214.8,1063.30h4.4M506.9,1063.30h-4.4M214.8,1048.60h2.5M506.9,1048.60h-2.5M214.8,1033.90h4.4M506.9,1033.90h-4.4M214.8,1019.20h2.5M506.9,1019.20h-2.5M214.8,1004.50h4.4M506.9,1004.50h-4.4M214.8,989.80h2.5M506.9,989.80h-2.5M214.8,975.10h4.4M506.9,975.10h-4.4M214.8,960.40h2.5M506.9,960.40h-2.5M214.8,945.70h4.4M506.9,945.70h-4.4M214.8,931.00h2.5M506.9,931.00h-2.5M214.8,916.30h4.4M506.9,916.30h-4.4M214.8,901.60h2.5M506.9,901.60h-2.5M214.8,886.90h4.4M506.9,886.90h-4.4M214.8,872.20h2.5M506.9,872.20h-2.5M214.8,857.50h4.4M506.9,857.50h-4.4" stroke="#5a5a5a" stroke-width="1.25" fill="none"/>
<rect x="214.8" y="842.8" width="292.10" height="235.20" fill="none" stroke="#5a5a5a" stroke-width="1.85"/>
<text x="239.14" y="1093.00" text-anchor="middle" class="tl">0</text>
<text x="287.82" y="1093.00" text-anchor="middle" class="tl">50</text>
<text x="336.51" y="1093.00" text-anchor="middle" class="tl">100</text>
<text x="385.19" y="1093.00" text-anchor="middle" class="tl">150</text>
<text x="433.88" y="1093.00" text-anchor="middle" class="tl">200</text>
<text x="482.56" y="1093.00" text-anchor="middle" class="tl">250</text>
<text x="210.30" y="1067.50" text-anchor="end" class="tl">100</text>
<text x="210.30" y="1038.10" text-anchor="end" class="tl">200</text>
<text x="210.30" y="1008.70" text-anchor="end" class="tl">300</text>
<text x="210.30" y="979.30" text-anchor="end" class="tl">400</text>
<text x="210.30" y="949.90" text-anchor="end" class="tl">500</text>
<text x="210.30" y="920.50" text-anchor="end" class="tl">600</text>
<text x="210.30" y="891.10" text-anchor="end" class="tl">700</text>
<text x="210.30" y="861.70" text-anchor="end" class="tl">800</text>
<text x="360.85" y="1109.00" text-anchor="middle" class="at">Curing time (d)</text>
<text transform="translate(185.60,960.40) rotate(-90)" text-anchor="middle" class="at">unconfined compressive strength (kPa)</text>
<circle cx="245.96" cy="1062.80" r="3.45" fill="url(#gk)"/><circle cx="244.96" cy="1061.80" r="1.25" fill="url(#hl)"/>
<circle cx="252.77" cy="1031.70" r="3.45" fill="url(#gk)"/><circle cx="251.77" cy="1030.70" r="1.25" fill="url(#hl)"/>
<circle cx="266.40" cy="989.70" r="3.45" fill="url(#gk)"/><circle cx="265.40" cy="988.70" r="1.25" fill="url(#hl)"/>
<circle cx="297.56" cy="979.30" r="3.45" fill="url(#gk)"/><circle cx="296.56" cy="978.30" r="1.25" fill="url(#hl)"/>
<circle cx="326.77" cy="975.30" r="3.45" fill="url(#gk)"/><circle cx="325.77" cy="974.30" r="1.25" fill="url(#hl)"/>
<circle cx="385.19" cy="973.70" r="3.45" fill="url(#gk)"/><circle cx="384.19" cy="972.70" r="1.25" fill="url(#hl)"/>
<circle cx="414.40" cy="970.20" r="3.45" fill="url(#gk)"/><circle cx="413.40" cy="969.20" r="1.25" fill="url(#hl)"/>
<circle cx="472.82" cy="969.20" r="3.45" fill="url(#gk)"/><circle cx="471.82" cy="968.20" r="1.25" fill="url(#hl)"/>
<circle cx="245.96" cy="1041.00" r="3.45" fill="url(#gr)"/><circle cx="244.96" cy="1040.00" r="1.25" fill="url(#hl)"/>
<circle cx="252.77" cy="995.90" r="3.45" fill="url(#gr)"/><circle cx="251.77" cy="994.90" r="1.25" fill="url(#hl)"/>
<circle cx="266.40" cy="945.90" r="3.45" fill="url(#gr)"/><circle cx="265.40" cy="944.90" r="1.25" fill="url(#hl)"/>
<circle cx="297.56" cy="919.40" r="3.45" fill="url(#gr)"/><circle cx="296.56" cy="918.40" r="1.25" fill="url(#hl)"/>
<circle cx="326.77" cy="917.50" r="3.45" fill="url(#gr)"/><circle cx="325.77" cy="916.50" r="1.25" fill="url(#hl)"/>
<circle cx="385.19" cy="915.60" r="3.45" fill="url(#gr)"/><circle cx="384.19" cy="914.60" r="1.25" fill="url(#hl)"/>
<circle cx="414.40" cy="913.30" r="3.45" fill="url(#gr)"/><circle cx="413.40" cy="912.30" r="1.25" fill="url(#hl)"/>
<circle cx="472.82" cy="910.10" r="3.45" fill="url(#gr)"/><circle cx="471.82" cy="909.10" r="1.25" fill="url(#hl)"/>
<circle cx="245.96" cy="1012.10" r="3.45" fill="url(#gb)"/><circle cx="244.96" cy="1011.10" r="1.25" fill="url(#hl)"/>
<circle cx="252.77" cy="975.90" r="3.45" fill="url(#gb)"/><circle cx="251.77" cy="974.90" r="1.25" fill="url(#hl)"/>
<circle cx="266.40" cy="919.30" r="3.45" fill="url(#gb)"/><circle cx="265.40" cy="918.30" r="1.25" fill="url(#hl)"/>
<circle cx="297.56" cy="897.80" r="3.45" fill="url(#gb)"/><circle cx="296.56" cy="896.80" r="1.25" fill="url(#hl)"/>
<circle cx="326.77" cy="888.00" r="3.45" fill="url(#gb)"/><circle cx="325.77" cy="887.00" r="1.25" fill="url(#hl)"/>
<circle cx="385.19" cy="880.60" r="3.45" fill="url(#gb)"/><circle cx="384.19" cy="879.60" r="1.25" fill="url(#hl)"/>
<circle cx="414.40" cy="872.20" r="3.45" fill="url(#gb)"/><circle cx="413.40" cy="871.20" r="1.25" fill="url(#hl)"/>
<circle cx="472.82" cy="857.80" r="3.45" fill="url(#gb)"/><circle cx="471.82" cy="856.80" r="1.25" fill="url(#hl)"/>
<polyline points="245.40,1050.39 246.82,1044.65 248.25,1039.84 249.67,1035.71 251.10,1032.09 252.52,1028.87 253.94,1025.96 255.37,1023.33 256.79,1020.91 258.22,1018.68 259.64,1016.61 261.06,1014.68 262.49,1012.87 263.91,1011.17 265.33,1009.56 266.76,1008.04 268.18,1006.60 269.61,1005.23 271.03,1003.93 272.45,1002.68 273.88,1001.49 275.30,1000.34 276.73,999.24 278.15,998.18 279.57,997.17 281.00,996.18 282.42,995.24 283.85,994.32 285.27,993.43 286.69,992.58 288.12,991.74 289.54,990.94 290.96,990.16 292.39,989.40 293.81,988.66 295.24,987.94 296.66,987.25 298.08,986.57 299.51,985.92 300.93,985.29 302.36,984.67 303.78,984.07 305.20,983.49 306.63,982.93 308.05,982.39 309.48,981.86 310.90,981.35 312.32,980.85 313.75,980.37 315.17,979.90 316.59,979.45 318.02,979.01 319.44,978.59 320.87,978.17 322.29,977.78 323.71,977.39 325.14,977.01 326.56,976.65 327.99,976.30 329.41,975.96 330.83,975.63 332.26,975.31 333.68,975.00 335.11,974.70 336.53,974.41 337.95,974.13 339.38,973.86 340.80,973.60 342.23,973.35 343.65,973.11 345.07,972.87 346.50,972.64 347.92,972.42 349.34,972.21 350.77,972.01 352.19,971.81 353.62,971.62 355.04,971.44 356.46,971.27 357.89,971.10 359.31,970.94 360.74,970.78 362.16,970.63 363.58,970.48 365.01,970.34 366.43,970.21 367.86,970.08 369.28,969.95 370.70,969.83 372.13,969.71 373.55,969.60 374.97,969.49 376.40,969.38 377.82,969.28 379.25,969.18 380.67,969.08 382.09,968.98 383.52,968.89 384.94,968.80 386.37,968.72 387.79,968.63 389.21,968.55 390.64,968.47 392.06,968.39 393.49,968.32 394.91,968.24 396.33,968.17 397.76,968.10 399.18,968.03 400.61,967.96 402.03,967.89 403.45,967.83 404.88,967.76 406.30,967.70 407.72,967.64 409.15,967.58 410.57,967.52 412.00,967.46 413.42,967.40 414.84,967.35 416.27,967.29 417.69,967.23 419.12,967.18 420.54,967.12 421.96,967.07 423.39,967.02 424.81,966.97 426.24,966.91 427.66,966.86 429.08,966.81 430.51,966.76 431.93,966.71 433.35,966.66 434.78,966.61 436.20,966.56 437.63,966.51 439.05,966.46 440.47,966.41 441.90,966.37 443.32,966.32 444.75,966.27 446.17,966.22 447.59,966.17 449.02,966.12 450.44,966.08 451.87,966.03 453.29,965.98 454.71,965.93 456.14,965.88 457.56,965.84 458.98,965.79 460.41,965.74 461.83,965.69 463.26,965.64 464.68,965.59 466.10,965.55 467.53,965.50 468.95,965.45 470.38,965.40 471.80,965.35" fill="none" stroke="#2e2e2e" stroke-width="1.4" stroke-linejoin="round"/>
<rect x="445.3" y="1027.4" width="52.80" height="43.40" fill="#fff" stroke="#bcbcbc" stroke-width="1.3"/>
<circle cx="458.80" cy="1035.50" r="3.45" fill="url(#gk)"/><circle cx="457.80" cy="1034.50" r="1.25" fill="url(#hl)"/>
<text x="474.30" y="1039.20" class="lg">20°C</text>
<circle cx="458.80" cy="1049.30" r="3.45" fill="url(#gr)"/><circle cx="457.80" cy="1048.30" r="1.25" fill="url(#hl)"/>
<text x="474.30" y="1053.00" class="lg">30°C</text>
<circle cx="458.80" cy="1063.10" r="3.45" fill="url(#gb)"/><circle cx="457.80" cy="1062.10" r="1.25" fill="url(#hl)"/>
<text x="474.30" y="1066.80" class="lg">40°C</text>
<text x="355.90" y="1021.90" class="pl">(g)</text>
</svg></body></html>
